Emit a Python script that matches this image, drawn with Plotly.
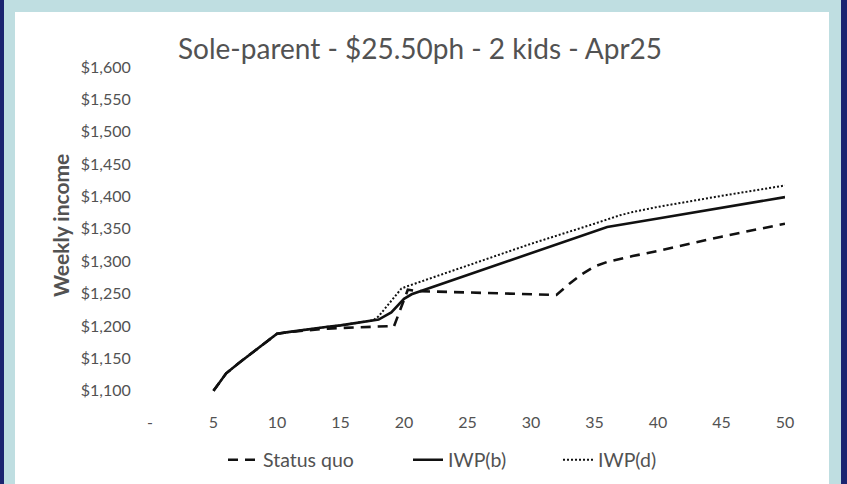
import plotly.graph_objects as go

# Hours worked per week (x) and weekly income (y) for each policy scenario
sq_hours = [5, 6, 7, 8, 9, 10, 11, 12, 13, 14, 15, 16, 17, 18, 19, 19.2, 20.3, 21, 25, 30, 32, 33, 34, 35, 36, 38, 40, 45, 50]
sq_income = [1100, 1127, 1143, 1158, 1173, 1188, 1191, 1193, 1195, 1196, 1197, 1198, 1199, 1200, 1200, 1199, 1256, 1254, 1252, 1249, 1248, 1265, 1280, 1292, 1299, 1308, 1316, 1338, 1358]

iwpb_hours = [5, 6, 7, 8, 9, 10, 11, 12, 13, 14, 15, 16, 17, 18, 19, 20, 20.6, 25, 30, 36, 40, 45, 50]
iwpb_income = [1100, 1127, 1143, 1158, 1173, 1188, 1191, 1194, 1197, 1199, 1201, 1204, 1207, 1210, 1221, 1242, 1249, 1279, 1313, 1353, 1366, 1383, 1399]

iwpd_hours = [5, 6, 7, 8, 9, 10, 11, 12, 13, 14, 15, 16, 17, 17.6, 18, 19, 19.8, 20.2, 25, 30, 35, 36, 37, 38, 39, 40, 45, 50]
iwpd_income = [1100, 1127, 1143, 1158, 1173, 1188, 1191, 1194, 1197, 1199, 1201, 1204, 1207, 1209, 1215, 1238, 1258, 1261, 1293, 1327, 1358, 1365, 1371, 1376, 1380, 1384, 1401, 1417]

x_ticks = [0, 5, 10, 15, 20, 25, 30, 35, 40, 45, 50]
x_tick_text = ["-", "5", "10", "15", "20", "25", "30", "35", "40", "45", "50"]
y_ticks = [1100, 1150, 1200, 1250, 1300, 1350, 1400, 1450, 1500, 1550, 1600]
y_tick_text = ["$1,100", "$1,150", "$1,200", "$1,250", "$1,300", "$1,350",
               "$1,400", "$1,450", "$1,500", "$1,550", "$1,600"]

TITLE = "Sole-parent - $25.50ph - 2 kids - Apr25"
FONT = "Lato, 'Open Sans', sans-serif"
GREY = "#525252"
INK = "#111111"

fig = go.Figure()
fig.add_trace(go.Scatter(x=sq_hours, y=sq_income, mode="lines", name="Status quo",
                         legend="legend",
                         line=dict(color=INK, width=2.6, dash="10px,7px")))
fig.add_trace(go.Scatter(x=iwpb_hours, y=iwpb_income, mode="lines", name="IWP(b)",
                         legend="legend2",
                         line=dict(color=INK, width=2.6)))
fig.add_trace(go.Scatter(x=iwpd_hours, y=iwpd_income, mode="lines", name="IWP(d)",
                         legend="legend3",
                         line=dict(color=INK, width=2.0, dash="2px,2px")))

# Plot area geometry in pixels
L, R, T, B = 150, 62, 54, 77
W, H = 847, 484
pw, ph = W - L - R, H - T - B


def px_x(p):
    return (p - L) / pw


def px_y(p):
    return (H - B - p) / ph


shapes = [
    # white card behind the chart
    dict(type="rect", xref="paper", yref="paper", layer="below",
         x0=px_x(15), x1=px_x(829), y0=px_y(560), y1=px_y(12),
         fillcolor="white", line=dict(width=0)),
    # dark edges on both sides
    dict(type="rect", xref="paper", yref="paper", layer="below",
         x0=px_x(-5), x1=px_x(4), y0=px_y(560), y1=px_y(-20),
         fillcolor="#1b2470", line=dict(width=0)),
    dict(type="rect", xref="paper", yref="paper", layer="below",
         x0=px_x(841), x1=px_x(852), y0=px_y(560), y1=px_y(-20),
         fillcolor="#1b2470", line=dict(width=0)),
]

annotations = [
    dict(text=TITLE, xref="paper", yref="paper", x=px_x(420), y=px_y(48),
         xanchor="center", yanchor="middle", showarrow=False,
         font=dict(family=FONT, size=28, color=GREY)),
    dict(text="<b>Weekly income</b>", xref="paper", yref="paper",
         x=px_x(60), y=px_y(226), xanchor="center", yanchor="middle",
         textangle=-90, showarrow=False,
         font=dict(family=FONT, size=21, color=GREY)),
]


def legend_at(px_left):
    return dict(orientation="h", x=px_x(px_left), y=px_y(460),
                xanchor="left", yanchor="middle", borderwidth=0,
                bgcolor="rgba(0,0,0,0)",
                font=dict(family=FONT, size=19.5, color=GREY))


fig.update_layout(
    width=W, height=H,
    margin=dict(l=L, r=R, t=T, b=B, pad=0, autoexpand=False),
    paper_bgcolor="#bfdee1",
    plot_bgcolor="rgba(0,0,0,0)",
    font=dict(family=FONT, size=16, color=GREY),
    shapes=shapes,
    annotations=annotations,
    showlegend=True,
    legend=legend_at(223),
    legend2=legend_at(408),
    legend3=legend_at(558),
    xaxis=dict(range=[0, 50], tickvals=x_ticks, ticktext=x_tick_text,
               showgrid=False, zeroline=False, showline=False,
               ticks="outside", ticklen=1, tickcolor="rgba(0,0,0,0)",
               tickfont=dict(family=FONT, size=16, color=GREY), fixedrange=True),
    yaxis=dict(range=[1075, 1620], tickvals=y_ticks, ticktext=y_tick_text,
               showgrid=False, zeroline=False, showline=False,
               ticks="outside", ticklen=15, tickcolor="rgba(0,0,0,0)",
               tickfont=dict(family=FONT, size=16, color=GREY), fixedrange=True),
)

fig.write_html("out.html")
